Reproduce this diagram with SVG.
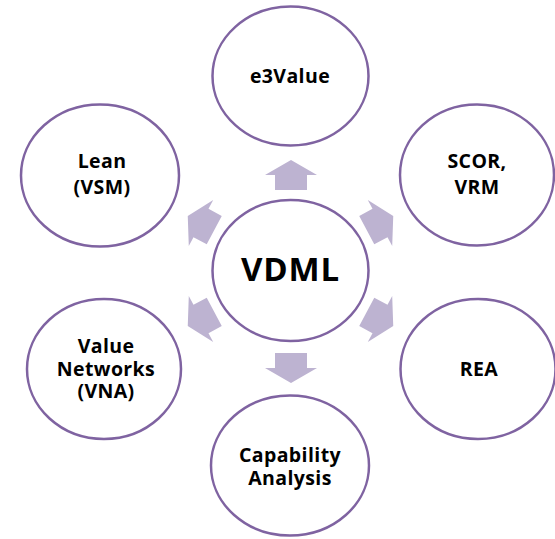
<svg xmlns="http://www.w3.org/2000/svg" width="555" height="539" viewBox="0 0 555 539">
<defs>
<style>
.node ellipse{fill:#ffffff;stroke:#7f63a1;stroke-width:2.5}
.lbl{font-family:"Open Sans","Liberation Sans",sans-serif;font-weight:bold;font-size:19.5px;letter-spacing:0.4px;fill:#000;text-anchor:middle}
.big{font-size:33px;letter-spacing:0.8px}
.arr{fill:#bdb3d1}
</style>
<polygon id="arrow" points="0,-15 26,0 16,0 16,15 -16,15 -16,0 -26,0"/>
</defs>
<rect width="555" height="539" fill="#ffffff"/>
<g id="connectors" class="arr">
<use href="#arrow" transform="translate(291,175)"/>
<use href="#arrow" transform="translate(291,368) rotate(180)"/>
<use href="#arrow" transform="translate(201,223) rotate(-62)"/>
<use href="#arrow" transform="translate(380,223) rotate(62)"/>
<use href="#arrow" transform="translate(201,319) rotate(-118)"/>
<use href="#arrow" transform="translate(380,319) rotate(118)"/>
</g>
<g id="vdml" class="node"><ellipse cx="290.5" cy="270.5" rx="78" ry="70.5"/><text class="lbl big" x="290.5" y="281">VDML</text></g>
<g id="e3value" class="node"><ellipse cx="290.5" cy="76" rx="78" ry="69.5"/><text class="lbl" x="290" y="83">e3Value</text></g>
<g id="scor" class="node"><ellipse cx="477" cy="175" rx="77" ry="70.5"/><text class="lbl" x="477" y="168">SCOR,</text><text class="lbl" x="477" y="194">VRM</text></g>
<g id="rea" class="node"><ellipse cx="478" cy="369" rx="77.5" ry="70"/><text class="lbl" x="479" y="376">REA</text></g>
<g id="capability" class="node"><ellipse cx="290" cy="465.5" rx="79" ry="70"/><text class="lbl" x="290" y="462">Capability</text><text class="lbl" x="290" y="485">Analysis</text></g>
<g id="valuenetworks" class="node"><ellipse cx="104" cy="369" rx="77" ry="70"/><text class="lbl" x="106" y="353">Value</text><text class="lbl" x="106" y="375.5">Networks</text><text class="lbl" x="106" y="398">(VNA)</text></g>
<g id="lean" class="node"><ellipse cx="100" cy="175.5" rx="79" ry="71"/><text class="lbl" x="102" y="168">Lean</text><text class="lbl" x="102" y="194">(VSM)</text></g>
</svg>
